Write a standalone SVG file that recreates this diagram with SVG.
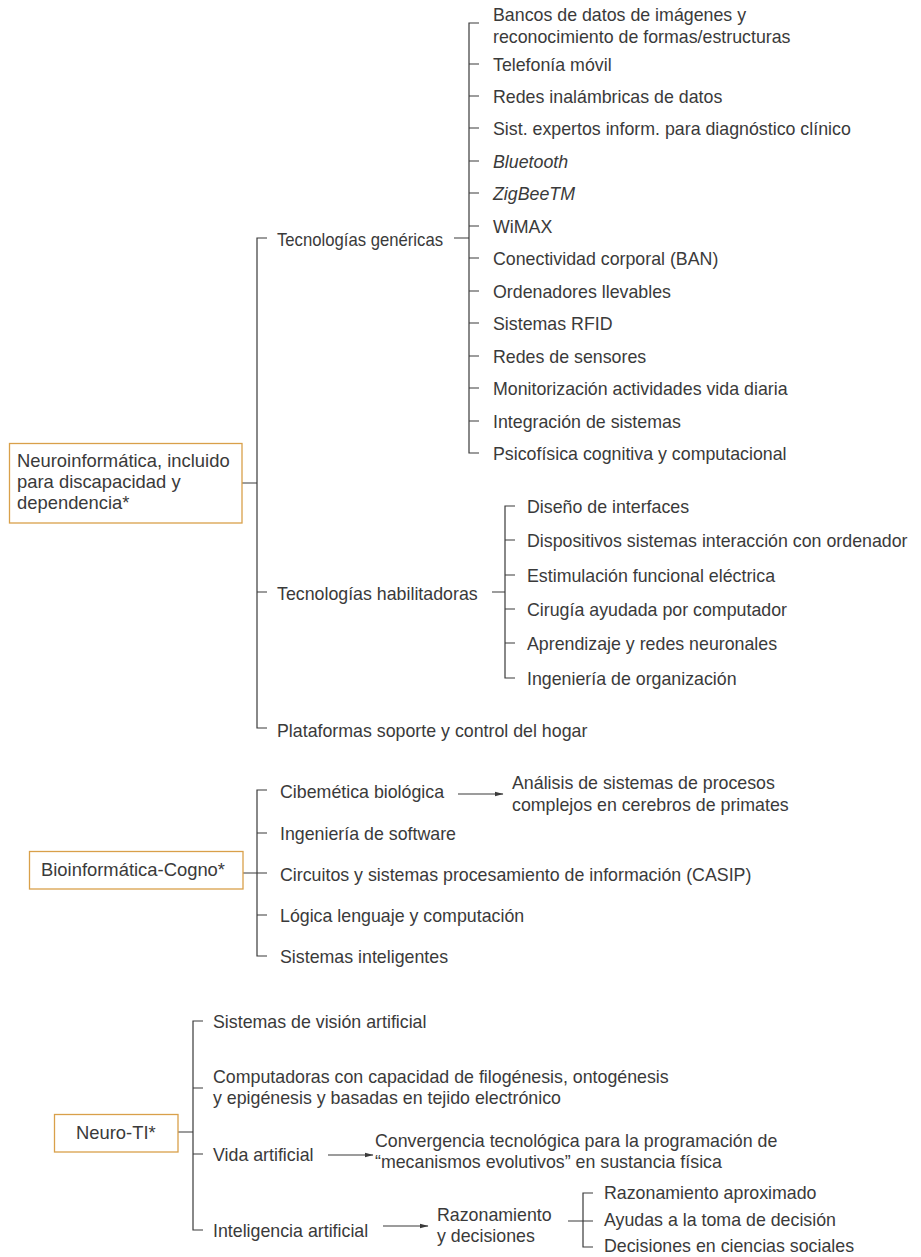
<svg xmlns="http://www.w3.org/2000/svg" width="921" height="1257" viewBox="0 0 921 1257">
  <style>
    text { font-family: "Liberation Sans", Arial, sans-serif; font-size: 17.8px; fill: #3a3a3a; }
    .it { font-style: italic; }
    .boxtext { font-size: 18.4px; }
    .box { fill: #ffffff; stroke: #d9a04a; stroke-width: 1.3; }
    .ln { fill: none; stroke: #3a3a3a; stroke-width: 1.2; }
  </style>
  <defs>
    <marker id="arrow" markerWidth="9" markerHeight="6" refX="8.5" refY="3" orient="auto" markerUnits="userSpaceOnUse">
      <path d="M0,0.5 L9,3 L0,5.5 Z" fill="#3a3a3a"/>
    </marker>
  </defs>
  <rect width="921" height="1257" fill="#ffffff"/>

  <!-- connectors -->
  <g id="connectors" class="ln">
    <!-- Neuroinformática trunk -->
    <path d="M242,483 H257 M267,238 H257 V728 H267 M257,592 H267"/>
    <!-- Tecnologías genéricas bracket -->
    <path d="M454,238 H469 M479,23 H469 V453 H479 M469,64 H479 M469,96 H479 M469,128 H479 M469,161 H479 M469,193 H479 M469,226 H479 M469,258 H479 M469,291 H479 M469,323 H479 M469,356 H479 M469,388 H479 M469,421 H479"/>
    <!-- Tecnologías habilitadoras bracket -->
    <path d="M492,592 H505 M515,506 H505 V678 H515 M505,540 H515 M505,575 H515 M505,609 H515 M505,643 H515"/>
    <!-- Bioinformática trunk -->
    <path d="M243,873 H257 M267,790 H257 V956 H267 M257,833 H267 M257,873 H267 M257,915 H267"/>
    <line x1="458" y1="794" x2="503" y2="794" marker-end="url(#arrow)"/>
    <!-- Neuro-TI trunk -->
    <path d="M178,1132 H193 M203,1021 H193 V1230 H203 M193,1088 H203 M193,1154 H203"/>
    <line x1="328" y1="1155" x2="373" y2="1155" marker-end="url(#arrow)"/>
    <line x1="383" y1="1226" x2="428" y2="1226" marker-end="url(#arrow)"/>
    <!-- Razonamiento y decisiones bracket -->
    <path d="M568,1221 H593 M593,1193 H583 V1247 H593"/>
  </g>

  <!-- Neuroinformática -->
  <g id="neuroinformatica">
    <rect class="box" x="9.5" y="443.5" width="232.5" height="79.5"/>
    <text class="boxtext" x="17" y="467">Neuroinformática, incluido</text>
    <text class="boxtext" x="17" y="488">para discapacidad y</text>
    <text class="boxtext" x="17" y="509">dependencia*</text>
  </g>

  <g id="tec-genericas">
    <text x="277" y="246" textLength="166" lengthAdjust="spacingAndGlyphs">Tecnologías genéricas</text>
  </g>
  <g id="tec-genericas-items">
    <text x="493" y="21">Bancos de datos de imágenes y</text>
    <text x="493" y="43">reconocimiento de formas/estructuras</text>
    <text x="493" y="71">Telefonía móvil</text>
    <text x="493" y="103">Redes inalámbricas de datos</text>
    <text x="493" y="135">Sist. expertos inform. para diagnóstico clínico</text>
    <text x="493" y="168" class="it">Bluetooth</text>
    <text x="493" y="200" class="it">ZigBeeTM</text>
    <text x="493" y="233">WiMAX</text>
    <text x="493" y="265">Conectividad corporal (BAN)</text>
    <text x="493" y="298">Ordenadores llevables</text>
    <text x="493" y="330">Sistemas RFID</text>
    <text x="493" y="363">Redes de sensores</text>
    <text x="493" y="395">Monitorización actividades vida diaria</text>
    <text x="493" y="428">Integración de sistemas</text>
    <text x="493" y="460">Psicofísica cognitiva y computacional</text>
  </g>

  <g id="tec-habilitadoras">
    <text x="277" y="600">Tecnologías habilitadoras</text>
  </g>
  <g id="tec-habilitadoras-items">
    <text x="527" y="513">Diseño de interfaces</text>
    <text x="527" y="547">Dispositivos sistemas interacción con ordenador</text>
    <text x="527" y="582">Estimulación funcional eléctrica</text>
    <text x="527" y="616">Cirugía ayudada por computador</text>
    <text x="527" y="650">Aprendizaje y redes neuronales</text>
    <text x="527" y="685">Ingeniería de organización</text>
  </g>

  <g id="plataformas">
    <text x="277" y="737">Plataformas soporte y control del hogar</text>
  </g>

  <!-- Bioinformática-Cogno -->
  <g id="bioinformatica">
    <rect class="box" x="29.5" y="851.5" width="213.5" height="37.5"/>
    <text class="boxtext" x="41" y="876">Bioinformática-Cogno*</text>
  </g>
  <g id="bioinformatica-items">
    <text x="280" y="798">Cibemética biológica</text>
    <text x="280" y="840">Ingeniería de software</text>
    <text x="280" y="881">Circuitos y sistemas procesamiento de información (CASIP)</text>
    <text x="280" y="922">Lógica lenguaje y computación</text>
    <text x="280" y="963">Sistemas inteligentes</text>
  </g>
  <g id="analisis">
    <text x="512" y="789">Análisis de sistemas de procesos</text>
    <text x="512" y="811">complejos en cerebros de primates</text>
  </g>

  <!-- Neuro-TI -->
  <g id="neuro-ti">
    <rect class="box" x="54.5" y="1114.5" width="123.5" height="37.5"/>
    <text class="boxtext" x="76" y="1139">Neuro-TI*</text>
  </g>
  <g id="neuro-ti-items">
    <text x="213" y="1028">Sistemas de visión artificial</text>
    <text x="213" y="1083">Computadoras con capacidad de filogénesis, ontogénesis</text>
    <text x="213" y="1104">y epigénesis y basadas en tejido electrónico</text>
    <text x="213" y="1161">Vida artificial</text>
    <text x="213" y="1237">Inteligencia artificial</text>
  </g>
  <g id="convergencia">
    <text x="375" y="1147">Convergencia tecnológica para la programación de</text>
    <text x="375" y="1168">“mecanismos evolutivos” en sustancia física</text>
  </g>
  <g id="razonamiento">
    <text x="437" y="1221">Razonamiento</text>
    <text x="437" y="1242">y decisiones</text>
  </g>
  <g id="razonamiento-items">
    <text x="604" y="1199">Razonamiento aproximado</text>
    <text x="604" y="1226">Ayudas a la toma de decisión</text>
    <text x="604" y="1252">Decisiones en ciencias sociales</text>
  </g>
</svg>
